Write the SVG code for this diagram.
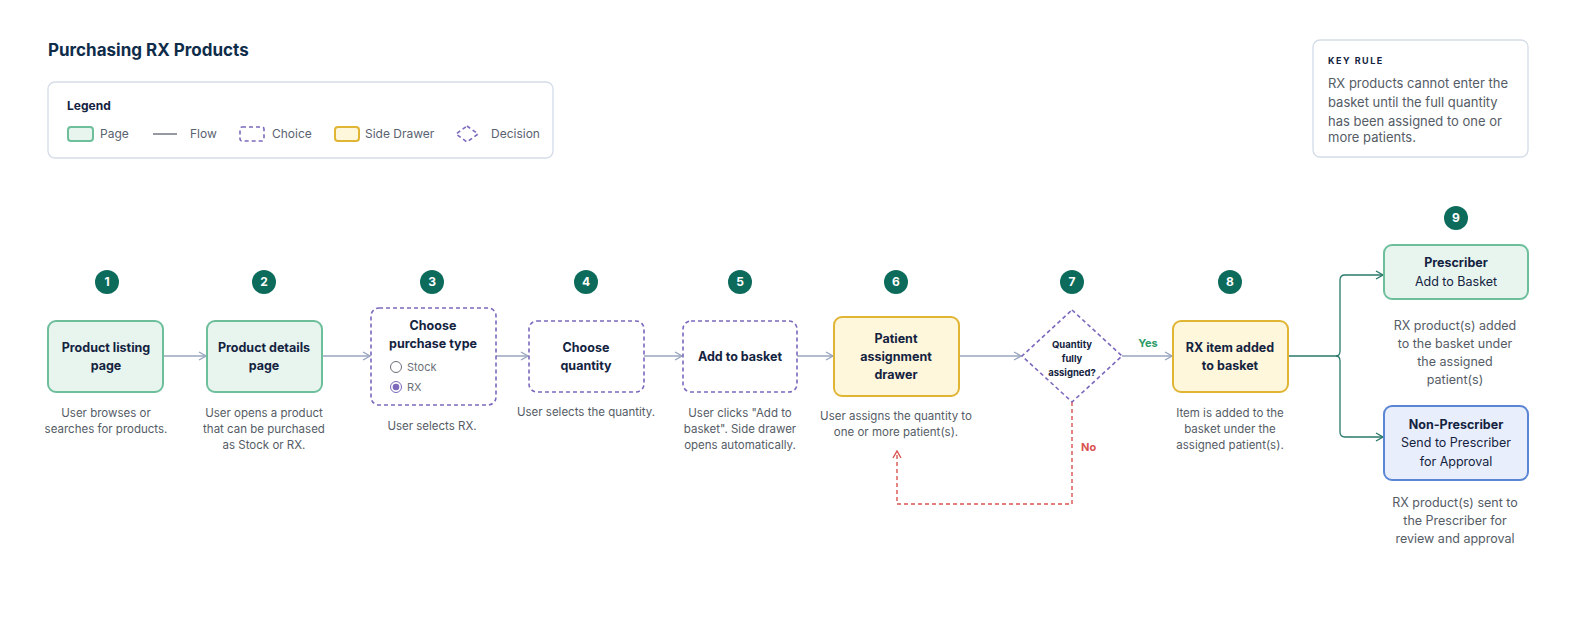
<svg xmlns="http://www.w3.org/2000/svg" width="1582" height="638" viewBox="0 0 1582 638">
<defs>
<style>
text{font-family:Inter,"Liberation Sans",sans-serif}
.t{font-size:17px;font-weight:700;fill:#0f2d4a}
.b{font-size:12.5px;font-weight:700;fill:#14233f;text-anchor:middle}
.n{font-size:12.5px;fill:#14233f;text-anchor:middle}
.d{font-size:11.5px;fill:#555c66;text-anchor:middle}
.lg{font-size:12px;fill:#5a6270}
.num{font-size:12px;font-weight:700;fill:#fff;text-anchor:middle}
.page{fill:#e8f5ef;stroke:#6dbf9c;stroke-width:2}
.choice{fill:#fff;stroke:#7c68bc;stroke-width:1.6;stroke-dasharray:4 3}
.drawer{fill:#fff7dc;stroke:#e0b534;stroke-width:2}
.blue{fill:#e8eefb;stroke:#5b86d3;stroke-width:2}
.flow{fill:none;stroke:#9aa6bf;stroke-width:1.5;marker-end:url(#ag)}
.br{fill:none;stroke:#2a7a6a;stroke-width:1.3}
.dot{fill:#0d6b5c}
</style>
<marker id="ag" viewBox="0 0 10 10" refX="9" refY="5" markerWidth="10" markerHeight="10" markerUnits="userSpaceOnUse" orient="auto"><path d="M2,1 L9,5 L2,9" fill="none" stroke="#9aa6bf" stroke-width="1.4"/></marker>
<marker id="at" viewBox="0 0 10 10" refX="9" refY="5" markerWidth="10" markerHeight="10" markerUnits="userSpaceOnUse" orient="auto"><path d="M2,1 L9,5 L2,9" fill="none" stroke="#2a7a6a" stroke-width="1.4"/></marker>
<marker id="ar" viewBox="0 0 10 10" refX="9" refY="5" markerWidth="10" markerHeight="10" markerUnits="userSpaceOnUse" orient="auto"><path d="M2,1 L9,5 L2,9" fill="none" stroke="#d9534f" stroke-width="1.4"/></marker>
</defs>
<rect width="1582" height="638" fill="#fff"/>
<text class="t" x="48" y="56">Purchasing RX Products</text>
<g id="legend">
<rect x="48" y="82" width="505" height="76" rx="7" fill="#fff" stroke="#d5dce8" stroke-width="1.3"/>
<text x="67" y="110" style="font-size:12px;font-weight:700;fill:#14233f">Legend</text>
<rect x="68" y="127" width="25" height="14" rx="3" class="page"/>
<text class="lg" x="100" y="138">Page</text>
<line x1="153" y1="134" x2="177" y2="134" stroke="#5a6270" stroke-width="1.3"/>
<text class="lg" x="190" y="138">Flow</text>
<rect x="240" y="127" width="24" height="14" rx="2" class="choice"/>
<text class="lg" x="272" y="138">Choice</text>
<rect x="335" y="127" width="24" height="14" rx="3" class="drawer"/>
<text class="lg" x="365" y="138">Side Drawer</text>
<path d="M467,126 L478,134 L467,142 L456,134 Z" class="choice"/>
<text class="lg" x="491" y="138">Decision</text>
</g>
<g id="keyrule">
<rect x="1313" y="40" width="215" height="117" rx="7" fill="#fff" stroke="#d5dce8" stroke-width="1.3"/>
<text x="1328" y="64" style="font-size:9px;font-weight:700;fill:#14233f;letter-spacing:1.5px">KEY RULE</text>
<text style="font-size:13px;fill:#555c66"><tspan x="1328" y="88">RX products cannot enter the</tspan><tspan x="1328" y="107">basket until the full quantity</tspan><tspan x="1328" y="126">has been assigned to one or</tspan><tspan x="1328" y="142">more patients.</tspan></text>
</g>
<g id="connectors">
<path class="flow" d="M163,356 H206"/>
<path class="flow" d="M322,356 H370"/>
<path class="flow" d="M496,356 H528"/>
<path class="flow" d="M644,356 H682"/>
<path class="flow" d="M797,356 H833"/>
<path class="flow" d="M959,356 H1021"/>
<path class="flow" d="M1122,356 H1172"/>
<text x="1148" y="347" style="font-size:11px;font-weight:700;fill:#2e9b6a" text-anchor="middle">Yes</text>
<path d="M1288,356 H1336 Q1340,356 1340,351 V280 Q1340,275 1345,275 H1383" class="br" marker-end="url(#at)"/>
<path d="M1336,356 Q1340,356 1340,361 V432 Q1340,437 1345,437 H1383" class="br" marker-end="url(#at)"/>
<path d="M1072,402 V504 H897 V451" fill="none" stroke="#d9534f" stroke-width="1.4" stroke-dasharray="4 3" marker-end="url(#ar)"/>
<text x="1081" y="451" style="font-size:11px;font-weight:700;fill:#d9534f">No</text>
</g>
<g id="n1"><circle class="dot" cx="107" cy="282" r="12"/><text class="num" x="107" y="286">1</text>
<rect x="48" y="321" width="115" height="71" rx="8" class="page"/>
<text class="b" x="106" y="352">Product listing</text><text class="b" x="106" y="370">page</text>
<text class="d"><tspan x="106" y="417">User browses or</tspan><tspan x="106" y="433">searches for products.</tspan></text></g>
<g id="n2"><circle class="dot" cx="264" cy="282" r="12"/><text class="num" x="264" y="286">2</text>
<rect x="207" y="321" width="115" height="71" rx="8" class="page"/>
<text class="b" x="264" y="352">Product details</text><text class="b" x="264" y="370">page</text>
<text class="d"><tspan x="264" y="417">User opens a product</tspan><tspan x="264" y="433">that can be purchased</tspan><tspan x="264" y="449">as Stock or RX.</tspan></text></g>
<g id="n3"><circle class="dot" cx="432" cy="282" r="12"/><text class="num" x="432" y="286">3</text>
<rect x="371" y="308" width="125" height="97" rx="8" class="choice"/>
<text class="b" x="433" y="330">Choose</text><text class="b" x="433" y="348">purchase type</text>
<circle cx="396" cy="367" r="5.5" fill="#fff" stroke="#6b6f78" stroke-width="1"/><text x="407" y="371" style="font-size:11px;fill:#6b6f78">Stock</text>
<circle cx="396" cy="387" r="5.5" fill="#fff" stroke="#7c68bc" stroke-width="1"/><circle cx="396" cy="387" r="3.3" fill="#7c68bc"/><text x="407" y="391" style="font-size:11px;fill:#6b6f78">RX</text>
<text class="d" x="432" y="430">User selects RX.</text></g>
<g id="n4"><circle class="dot" cx="586" cy="282" r="12"/><text class="num" x="586" y="286">4</text>
<rect x="529" y="321" width="115" height="71" rx="8" class="choice"/>
<text class="b" x="586" y="352">Choose</text><text class="b" x="586" y="370">quantity</text>
<text class="d" x="586" y="416">User selects the quantity.</text></g>
<g id="n5"><circle class="dot" cx="740" cy="282" r="12"/><text class="num" x="740" y="286">5</text>
<rect x="683" y="321" width="114" height="71" rx="8" class="choice"/>
<text class="b" x="740" y="361">Add to basket</text>
<text class="d"><tspan x="740" y="417">User clicks "Add to</tspan><tspan x="740" y="433">basket". Side drawer</tspan><tspan x="740" y="449">opens automatically.</tspan></text></g>
<g id="n6"><circle class="dot" cx="896" cy="282" r="12"/><text class="num" x="896" y="286">6</text>
<rect x="834" y="317" width="125" height="79" rx="8" class="drawer"/>
<text class="b" x="896" y="343">Patient</text><text class="b" x="896" y="361">assignment</text><text class="b" x="896" y="379">drawer</text>
<text class="d"><tspan x="896" y="420">User assigns the quantity to</tspan><tspan x="896" y="436">one or more patient(s).</tspan></text></g>
<g id="n7"><circle class="dot" cx="1072" cy="282" r="12"/><text class="num" x="1072" y="286">7</text>
<path d="M1072,310 L1122,356 L1072,402 L1022,356 Z" class="choice"/>
<text style="font-size:9.5px;font-weight:700;fill:#14233f" text-anchor="middle"><tspan x="1072" y="348">Quantity</tspan><tspan x="1072" y="362">fully</tspan><tspan x="1072" y="376">assigned?</tspan></text></g>
<g id="n8"><circle class="dot" cx="1230" cy="282" r="12"/><text class="num" x="1230" y="286">8</text>
<rect x="1173" y="321" width="115" height="71" rx="8" class="drawer"/>
<text class="b" x="1230" y="352">RX item added</text><text class="b" x="1230" y="370">to basket</text>
<text class="d"><tspan x="1230" y="417">Item is added to the</tspan><tspan x="1230" y="433">basket under the</tspan><tspan x="1230" y="449">assigned patient(s).</tspan></text></g>
<g id="n9"><circle class="dot" cx="1456" cy="218" r="12"/><text class="num" x="1456" y="222">9</text>
<rect x="1384" y="245" width="144" height="54" rx="8" class="page"/>
<text class="b" x="1456" y="267">Prescriber</text><text class="n" x="1456" y="286">Add to Basket</text>
<text class="d" style="font-size:12.5px"><tspan x="1455" y="330">RX product(s) added</tspan><tspan x="1455" y="348">to the basket under</tspan><tspan x="1455" y="366">the assigned</tspan><tspan x="1455" y="384">patient(s)</tspan></text>
<rect x="1384" y="406" width="144" height="74" rx="8" class="blue"/>
<text class="b" x="1456" y="429">Non-Prescriber</text><text class="n" x="1456" y="447">Send to Prescriber</text><text class="n" x="1456" y="466">for Approval</text>
<text class="d" style="font-size:12.5px"><tspan x="1455" y="507">RX product(s) sent to</tspan><tspan x="1455" y="525">the Prescriber for</tspan><tspan x="1455" y="543">review and approval</tspan></text></g>
</svg>
